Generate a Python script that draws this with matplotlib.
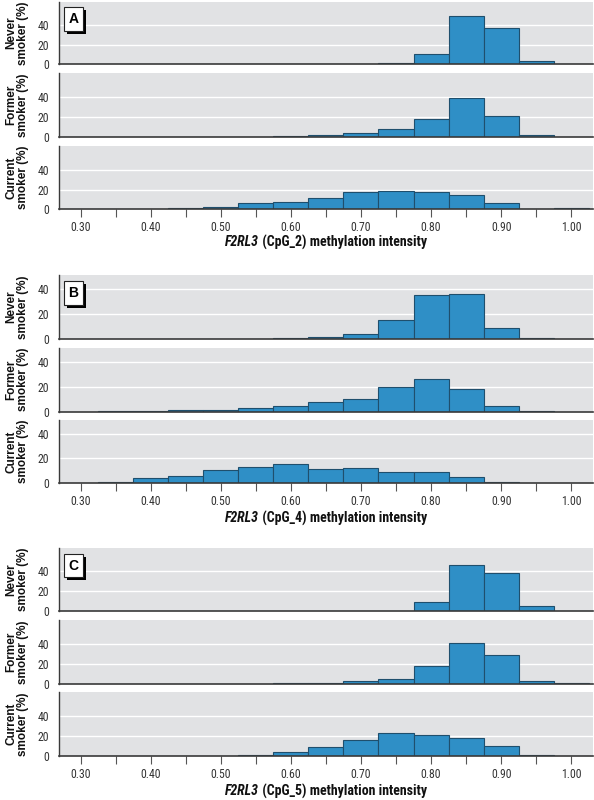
import matplotlib
matplotlib.use("Agg")
import matplotlib.pyplot as plt
from matplotlib import font_manager
import matplotlib.patheffects as pe

# ---- data ----
bin_centers = [0.30, 0.35, 0.40, 0.45, 0.50, 0.55, 0.60, 0.65, 0.70, 0.75, 0.80, 0.85, 0.90, 0.95, 1.00]
groups = ["Never\nsmoker (%)", "Former\nsmoker (%)", "Current\nsmoker (%)"]
panel_letters = ["A", "B", "C"]
cpg_names = ["CpG_2", "CpG_4", "CpG_5"]
y_tick_labels = ["0", "20", "40"]

A_never = [0, 0, 0, 0, 0, 0, 0.3, 0.1, 0.5, 1.4, 10.6, 48.9, 37.3, 3.4, 0.2]
A_former = [0, 0, 0, 0, 0.2, 0.2, 0.5, 1.7, 3.7, 8.0, 18.2, 39.3, 20.8, 1.3, 0.2]
A_current = [0, 0, 0.2, 1.0, 2.7, 6.4, 7.0, 11.4, 17.1, 18.5, 17.8, 14.8, 6.7, 0.2, 1.0]

B_never = [0, 0, 0, 0, 0, 0.2, 0.5, 1.3, 4.0, 15.2, 34.9, 35.5, 8.8, 0.8, 0]
B_former = [0, 0.3, 0.3, 1.3, 1.6, 3.2, 4.6, 7.8, 10.5, 19.9, 25.8, 17.7, 4.8, 0.5, 0]
B_current = [0, 1.1, 4.0, 6.1, 10.7, 12.8, 15.2, 11.2, 12.0, 9.1, 8.8, 4.8, 1.3, 0.2, 0]

C_never = [0, 0, 0, 0, 0, 0, 0, 0, 0, 0.7, 8.8, 46.1, 38.3, 5.4, 0]
C_former = [0, 0, 0, 0.3, 0.2, 0, 0.5, 1.4, 3.0, 4.5, 17.6, 40.3, 28.3, 3.1, 0.5]
C_current = [0, 0, 0.3, 0, 0.2, 1.0, 4.0, 9.3, 15.7, 23.3, 21.3, 17.7, 10.0, 1.0, 0]

panels_data = [[A_never, A_former, A_current],
               [B_never, B_former, B_current],
               [C_never, C_former, C_current]]

# ---- fonts ----
available = {f.name for f in font_manager.fontManager.ttflist}
narrow_font = "Liberation Sans"
narrow_is_condensed = False
for cand in ["Liberation Sans Narrow", "Arial Narrow", "Nimbus Sans Narrow", "Roboto Condensed",
             "Open Sans Condensed", "DejaVu Sans Condensed", "Noto Sans Condensed"]:
    if cand in available:
        narrow_font = cand
        narrow_is_condensed = True
        break
narrow = [narrow_font, "DejaVu Sans"]
bold_family = ["Liberation Sans", "DejaVu Sans"]
tick_fs = 8.5 if narrow_is_condensed else 7.5
xlab_fs = 10.0 if narrow_is_condensed else 8.5

# ---- layout (pixel positions in a 594x800 figure) ----
W, H = 594, 800
ax_left_px, ax_right_px = 59, 593
panel_px = [
    [(1.5, 64.3), (73.3, 136.7), (146, 209.3)],
    [(275, 339), (347.7, 411.7), (420, 483.3)],
    [(547.7, 611.3), (620, 684), (692.3, 756)],
]
panel_ylim = [64, 51, 63.5]

BG = "#e1e2e4"
BAR = "#2f8fc6"
EDGE = "#1f4f6d"
SPINE = "#3a3a3a"

fig = plt.figure(figsize=(W / 100, H / 100), dpi=100)
fig.patch.set_facecolor("white")

for p in range(3):
    for g in range(3):
        top, bot = panel_px[p][g]
        rect = [ax_left_px / W, 1 - bot / H, (ax_right_px - ax_left_px) / W, (bot - top) / H]
        ax = fig.add_axes(rect)
        ax.set_facecolor(BG)
        ax.bar(bin_centers, panels_data[p][g], width=0.05, color=BAR,
               edgecolor=EDGE, linewidth=0.8, zorder=3)
        ax.set_xlim(0.2693, 1.031)
        ax.set_ylim(0, panel_ylim[p])
        ax.set_yticks([0, 20, 40])
        ax.set_yticklabels(y_tick_labels, family=narrow, fontsize=tick_fs, color="#333333")
        ax.yaxis.grid(True, color="white", linewidth=1.0, zorder=1)
        ax.set_axisbelow(True)
        ax.tick_params(axis="y", length=0, pad=7)
        for s in ["top", "right"]:
            ax.spines[s].set_visible(False)
        ax.spines["left"].set_color(SPINE)
        ax.spines["bottom"].set_color(SPINE)
        ax.spines["left"].set_linewidth(1.0)
        ax.spines["bottom"].set_linewidth(1.2)
        ax.spines["bottom"].set_zorder(4)
        ax.set_ylabel(groups[g], fontsize=8.5, fontweight="bold", family=bold_family,
                      linespacing=0.95, color="#111111")
        ax.yaxis.set_label_coords(-0.056, 0.5)
        ax.set_xticks(bin_centers)
        if g == 2:
            ax.set_xticklabels([f"{c:.2f}" if i % 2 == 0 else "" for i, c in enumerate(bin_centers)],
                               family=narrow, fontsize=tick_fs, color="#333333")
            ax.tick_params(axis="x", length=6, width=0.8, color="#555555", pad=2.5, direction="out")
        else:
            ax.tick_params(axis="x", length=0, labelbottom=False)
        if g == 0:
            t = ax.text(0.027, 0.72, panel_letters[p], transform=ax.transAxes, ha="center", va="center",
                        fontsize=10, fontweight="bold", color="black", family=bold_family, zorder=6,
                        bbox=dict(boxstyle="square,pad=0.35", facecolor="white", edgecolor="#222222",
                                  linewidth=0.8))
            t.get_bbox_patch().set_path_effects([
                pe.SimplePatchShadow(offset=(2.2, -2.2), shadow_rgbFace="black", alpha=1.0),
                pe.Normal()])

# x labels: italic gene name + bold rest, centered under axes
xlabel_y_px = [242, 518, 791]
renderer = fig.canvas.get_renderer()
cx = (ax_left_px + ax_right_px) / 2 / W
for p in range(3):
    yf = 1 - xlabel_y_px[p] / H
    t1 = fig.text(0, yf, "F2RL3", fontsize=xlab_fs, fontweight="bold", style="italic",
                  family=narrow, va="center", ha="left", color="#111111")
    t2 = fig.text(0, yf, " (" + cpg_names[p] + ") methylation intensity", fontsize=xlab_fs,
                  fontweight="bold", family=narrow, va="center", ha="left", color="#111111")
    w1 = t1.get_window_extent(renderer).width / W
    w2 = t2.get_window_extent(renderer).width / W
    x0 = cx - (w1 + w2) / 2
    t1.set_x(x0)
    t2.set_x(x0 + w1)

fig.savefig("out.png", dpi=100, facecolor="white")
